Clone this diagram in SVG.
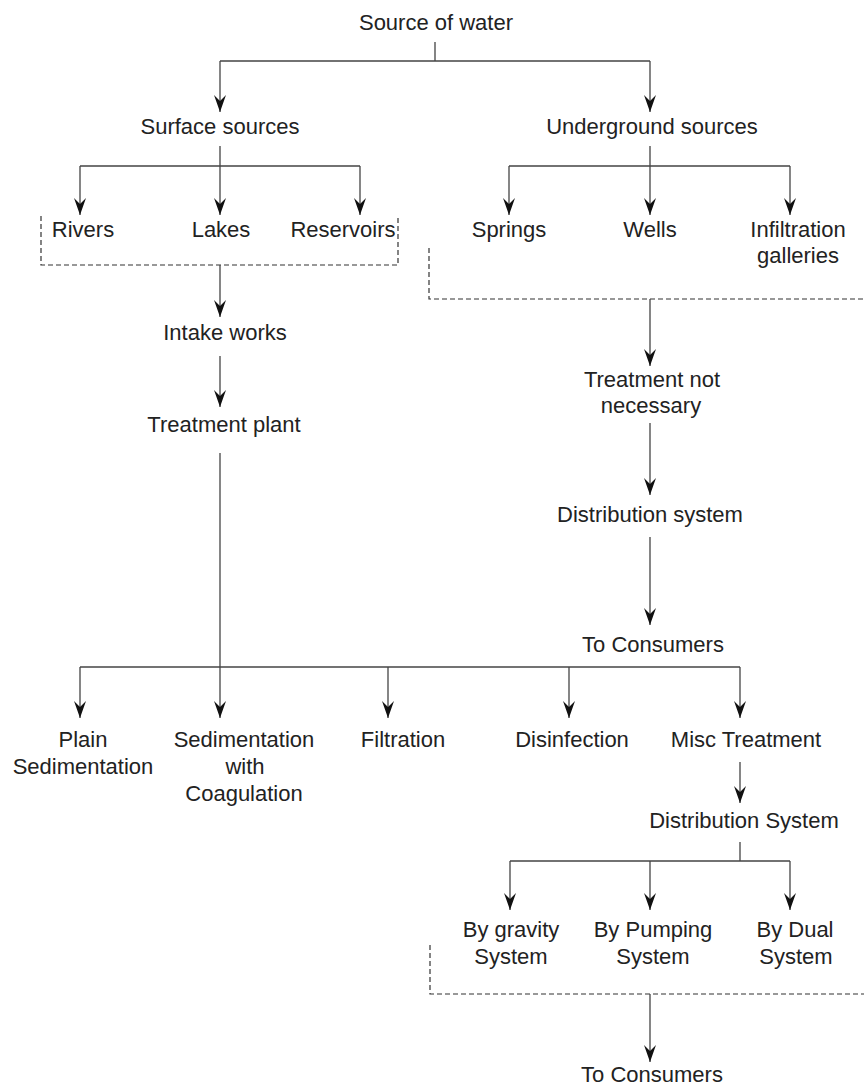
<svg xmlns="http://www.w3.org/2000/svg" width="864" height="1085" viewBox="0 0 864 1085">
<style>
text{font-family:"Liberation Sans",Arial,sans-serif;font-size:22px;fill:#222;text-anchor:middle}
.ln{stroke:#444;stroke-width:1.3;fill:none}
.ar{stroke:#444;stroke-width:1.3;fill:none;marker-end:url(#ah)}
.ds{stroke:#333;stroke-width:1.2;fill:none;stroke-dasharray:5 3}
</style>
<defs>
<marker id="ah" markerUnits="userSpaceOnUse" viewBox="-18 -7 19 14" refX="0" refY="0" markerWidth="19" markerHeight="14" orient="auto">
<path d="M0,0 L-17,-6 L-11,0 L-17,6 Z" fill="#111"/>
</marker>
</defs>
<rect width="864" height="1085" fill="#fff"/>
<g id="connectors">
<path class="ln" d="M435,42 V61 M220,61 H650"/>
<path class="ar" d="M220,61 V112"/>
<path class="ar" d="M650,61 V112"/>
<path class="ln" d="M220,146 V166 M80,166 H360"/>
<path class="ar" d="M80,166 V215"/>
<path class="ar" d="M220,166 V215"/>
<path class="ar" d="M360,166 V215"/>
<path class="ln" d="M650,146 V166 M509,166 H790"/>
<path class="ar" d="M509,166 V215"/>
<path class="ar" d="M650,166 V215"/>
<path class="ar" d="M790,166 V215"/>
<path class="ds" d="M41,216 V265 H398 V216"/>
<path class="ds" d="M429,248 V299 H864"/>
<path class="ar" d="M220,265 V317"/>
<path class="ar" d="M220,356 V407"/>
<path class="ar" d="M220,453 V718"/>
<path class="ar" d="M650,299 V366"/>
<path class="ar" d="M650,423 V495"/>
<path class="ar" d="M650,537 V625"/>
<path class="ln" d="M80,667 H740"/>
<path class="ar" d="M80,667 V718"/>
<path class="ar" d="M388,667 V718"/>
<path class="ar" d="M569,667 V718"/>
<path class="ar" d="M740,667 V718"/>
<path class="ar" d="M740,762 V803"/>
<path class="ln" d="M740,842 V861 M510,861 H790"/>
<path class="ar" d="M510,861 V910"/>
<path class="ar" d="M650,861 V910"/>
<path class="ar" d="M790,861 V910"/>
<path class="ds" d="M430,945 V994 H864"/>
<path class="ar" d="M650,994 V1062"/>
</g>
<g id="n-source"><text x="436" y="30">Source of water</text></g>
<g id="n-surface"><text x="220" y="134">Surface sources</text></g>
<g id="n-underground"><text x="652" y="134">Underground sources</text></g>
<g id="n-rivers"><text x="83" y="237">Rivers</text></g>
<g id="n-lakes"><text x="221" y="237">Lakes</text></g>
<g id="n-reservoirs"><text x="343" y="237">Reservoirs</text></g>
<g id="n-springs"><text x="509" y="237">Springs</text></g>
<g id="n-wells"><text x="650" y="237">Wells</text></g>
<g id="n-infiltration"><text x="798" y="237">Infiltration</text><text x="798" y="263">galleries</text></g>
<g id="n-intake"><text x="225" y="340">Intake works</text></g>
<g id="n-plant"><text x="224" y="432">Treatment plant</text></g>
<g id="n-notnecessary"><text x="652" y="387">Treatment not</text><text x="651" y="413">necessary</text></g>
<g id="n-distsys1"><text x="650" y="522">Distribution system</text></g>
<g id="n-consumers1"><text x="653" y="652">To Consumers</text></g>
<g id="n-plain"><text x="83" y="747">Plain</text><text x="83" y="774">Sedimentation</text></g>
<g id="n-sedcoag"><text x="244" y="747">Sedimentation</text><text x="245" y="774">with</text><text x="244" y="801">Coagulation</text></g>
<g id="n-filtration"><text x="403" y="747">Filtration</text></g>
<g id="n-disinfection"><text x="572" y="747">Disinfection</text></g>
<g id="n-misc"><text x="746" y="747">Misc Treatment</text></g>
<g id="n-distsys2"><text x="744" y="828">Distribution System</text></g>
<g id="n-gravity"><text x="511" y="937">By gravity</text><text x="511" y="964">System</text></g>
<g id="n-pumping"><text x="653" y="937">By Pumping</text><text x="653" y="964">System</text></g>
<g id="n-dual"><text x="795" y="937">By Dual</text><text x="796" y="964">System</text></g>
<g id="n-consumers2"><text x="652" y="1082">To Consumers</text></g>
</svg>
